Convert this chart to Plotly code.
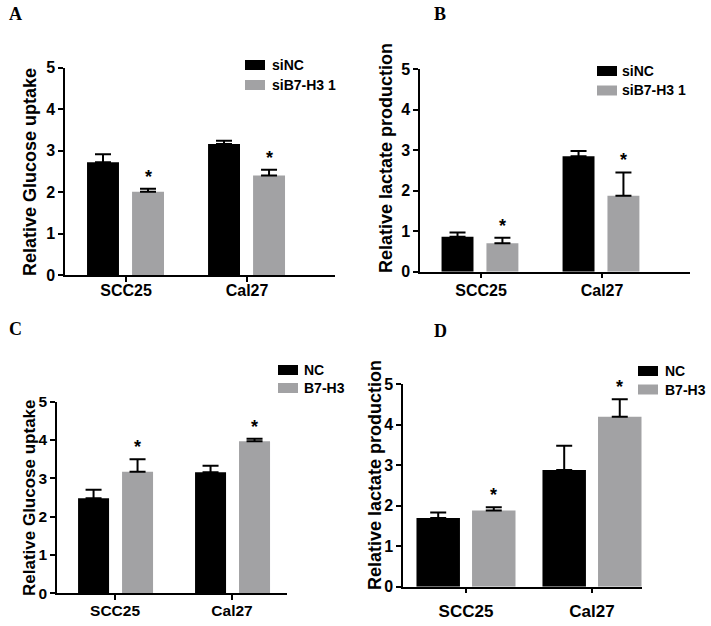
import plotly.graph_objects as go

# ---------------- data ----------------
categories = ["SCC25", "Cal27"]

# Panel A: Relative Glucose uptake (siRNA)
a_sinc = [2.72, 3.16]
a_sinc_err = [0.19, 0.08]
a_sib7 = [2.01, 2.40]
a_sib7_err = [0.07, 0.14]

# Panel B: Relative lactate production (siRNA)
b_sinc = [0.86, 2.85]
b_sinc_err = [0.11, 0.13]
b_sib7 = [0.70, 1.875]
b_sib7_err = [0.14, 0.575]

# Panel C: Relative Glucose uptake (overexpression)
c_nc = [2.48, 3.16]
c_nc_err = [0.22, 0.17]
c_b7 = [3.17, 3.97]
c_b7_err = [0.33, 0.06]

# Panel D: Relative lactate production (overexpression)
d_nc = [1.70, 2.88]
d_nc_err = [0.13, 0.60]
d_b7 = [1.88, 4.20]
d_b7_err = [0.08, 0.43]

y_ticks = [0, 1, 2, 3, 4, 5]
y_tick_labels = ["0", "1", "2", "3", "4", "5"]
series_names_top = ["siNC", "siB7-H3 1"]
series_names_bottom = ["NC", "B7-H3"]
panel_letters = ["A", "B", "C", "D"]
y_titles = ["Relative Glucose uptake", "Relative lactate production",
            "Relative Glucose uptake", "Relative lactate production"]

# ---------------- styling ----------------
W, H = 711, 626
BLACK = "#000000"
GRAY = "#a2a2a4"
SANS = "Liberation Sans, Arial, sans-serif"
SERIF = "Liberation Serif, Times New Roman, serif"


def px_x(p):
    return p / W


def px_y(p):
    return (H - p) / H


panels = [
    dict(xd=[px_x(65), px_x(335)], yd=[px_y(275), px_y(67.7)],
         xr=[-0.504, 1.727], off=[-0.322, 0.05], wid=[0.264, 0.264],
         data=[(a_sinc, a_sinc_err), (a_sib7, a_sib7_err)], names=series_names_top,
         cat_size=16, cat_standoff=-5, tick_size=16, title_size=18, title_pos=(30, 172),
         letter_pos=(15, 14), leg=dict(sx=245, tx=270, rows=[65, 85])),
    dict(xd=[px_x(420), px_x(690)], yd=[px_y(271.7), px_y(69)],
         xr=[-0.504, 1.727], off=[-0.326, 0.045], wid=[0.264, 0.264],
         data=[(b_sinc, b_sinc_err), (b_sib7, b_sib7_err)], names=series_names_top,
         cat_size=16, cat_standoff=-2, tick_size=16, title_size=18, title_pos=(386, 158),
         letter_pos=(440, 14), leg=dict(sx=597, tx=620, rows=[71, 90.5])),
    dict(xd=[px_x(57), px_x(287)], yd=[px_y(593.3), px_y(401.7)],
         xr=[-0.496, 1.47], off=[-0.316, 0.06], wid=[0.265, 0.265],
         data=[(c_nc, c_nc_err), (c_b7, c_b7_err)], names=series_names_bottom,
         cat_size=15.5, cat_standoff=-3, tick_size=15.5, title_size=17, title_pos=(29, 498),
         letter_pos=(15, 329), leg=dict(sx=278, tx=302, rows=[370, 388])),
    dict(xd=[px_x(403), px_x(642)], yd=[px_y(586.7), px_y(384.3)],
         xr=[-0.5, 1.397], off=[-0.393, 0.048], wid=[0.345, 0.345],
         data=[(d_nc, d_nc_err), (d_b7, d_b7_err)], names=series_names_bottom,
         cat_size=17, cat_standoff=3, tick_size=16, title_size=18, title_pos=(375, 475),
         letter_pos=(440, 331), leg=dict(sx=638, tx=663, rows=[371, 389.5])),
]

colors = [BLACK, GRAY]

fig = go.Figure()
annotations = []
shapes = []
layout_axes = {}

for i, p in enumerate(panels):
    ax = "" if i == 0 else str(i + 1)
    xref, yref = "x" + ax, "y" + ax
    for s in range(2):
        vals, errs = p["data"][s]
        fig.add_trace(go.Bar(
            x=categories, y=vals, name=p["names"][s],
            xaxis=xref, yaxis=yref,
            offset=p["off"][s], width=p["wid"][s],
            marker=dict(color=colors[s], line=dict(width=0)),
            error_y=dict(type="data", symmetric=False, array=errs,
                         arrayminus=[0] * len(errs), color=BLACK,
                         thickness=2, width=8),
            showlegend=False,
        ))
        if s == 1:
            for k in range(len(categories)):
                annotations.append(dict(
                    x=k + p["off"][s] + p["wid"][s] / 2, y=vals[k] + errs[k],
                    xref=xref, yref=yref, text="*", showarrow=False,
                    xanchor="center", yanchor="bottom", yshift=0,
                    font=dict(family=SANS, size=18, color=BLACK, weight="bold"),
                ))
        # legend entry (swatch + label)
        lg = p["leg"]
        cy = lg["rows"][s]
        shapes.append(dict(
            type="rect", xref="paper", yref="paper",
            x0=px_x(lg["sx"]), x1=px_x(lg["sx"] + 20),
            y0=px_y(cy + 5), y1=px_y(cy - 5),
            fillcolor=colors[s], line=dict(width=0),
        ))
        annotations.append(dict(
            x=px_x(lg["tx"]), y=px_y(cy), xref="paper", yref="paper",
            text=p["names"][s], showarrow=False, xanchor="left", yanchor="middle",
            font=dict(family=SANS, size=14, color=BLACK, weight="bold"),
        ))
    layout_axes["xaxis" + ax] = dict(
        domain=p["xd"], anchor=yref, type="category", range=p["xr"],
        showline=True, linecolor=BLACK, linewidth=1.5, showgrid=False, zeroline=False,
        ticks="outside", ticklen=5, tickwidth=1.5, tickcolor=BLACK,
        ticklabelstandoff=p["cat_standoff"],
        tickfont=dict(family=SANS, size=p["cat_size"], color=BLACK, weight="bold"),
        fixedrange=True, automargin=False,
    )
    layout_axes["yaxis" + ax] = dict(
        domain=p["yd"], anchor=xref, range=[0, 5], tickvals=y_ticks,
        ticktext=["<b>%s</b>" % t for t in y_tick_labels],
        showline=True, linecolor=BLACK, linewidth=1.5, showgrid=False, zeroline=False,
        ticks="outside", ticklen=5, tickwidth=1.5, tickcolor=BLACK,
        tickfont=dict(family=SANS, size=p["tick_size"], color=BLACK, weight="bold"),
        fixedrange=True, automargin=False,
    )
    # y-axis title
    tx, ty = p["title_pos"]
    annotations.append(dict(
        x=px_x(tx), y=px_y(ty), xref="paper", yref="paper", text=y_titles[i],
        textangle=-90, showarrow=False, xanchor="center", yanchor="middle",
        font=dict(family=SANS, size=p["title_size"], color=BLACK, weight="bold"),
    ))
    # panel letter
    lx, ly = p["letter_pos"]
    annotations.append(dict(
        x=px_x(lx), y=px_y(ly), xref="paper", yref="paper", text=panel_letters[i],
        showarrow=False, xanchor="center", yanchor="middle",
        font=dict(family=SERIF, size=18, color=BLACK, weight="bold"),
    ))

fig.update_layout(
    width=W, height=H, margin=dict(l=0, r=0, t=0, b=0, pad=0),
    paper_bgcolor="white", plot_bgcolor="white", autosize=False,
    showlegend=False, barmode="overlay",
    annotations=annotations, shapes=shapes, **layout_axes,
)

fig.write_html(
    "out.html",
    config={"displayModeBar": False, "responsive": False},
    post_script="document.body.style.margin='0px';document.body.style.padding='0px';",
)
